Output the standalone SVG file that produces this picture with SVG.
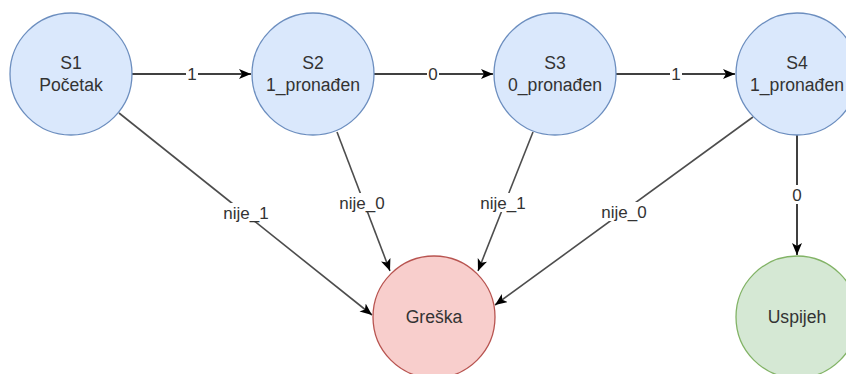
<svg xmlns="http://www.w3.org/2000/svg" width="846" height="374" viewBox="0 0 846 374">
<style>
text{font-family:"Liberation Sans",Arial,sans-serif;font-size:17px;fill:#333;text-anchor:middle}
.n text{font-size:17.6px}
.blue{fill:#dae8fc;stroke:#6c8ebf;stroke-width:1.3}
.red{fill:#f8cecc;stroke:#b85450;stroke-width:1.3}
.green{fill:#d5e8d4;stroke:#82b366;stroke-width:1.3}
.e{fill:none;stroke:#000;stroke-width:1.5;marker-end:url(#arr)}
.d{fill:none;stroke:#4d4d4d;stroke-width:1.6;marker-end:url(#arr)}
.bg{fill:#fff}
</style>
<defs>
<marker id="arr" markerUnits="userSpaceOnUse" markerWidth="14" markerHeight="12" refX="12" refY="5" orient="auto">
<path d="M0,0 L12,5 L0,10 L3,5 z" fill="#000"/>
</marker>
</defs>
<rect width="846" height="374" fill="#fff"/>
<g id="connectors">
<line class="e" x1="132" y1="74" x2="251" y2="74"/>
<line class="e" x1="374" y1="74" x2="493" y2="74"/>
<line class="e" x1="616" y1="74" x2="735" y2="74"/>
<line class="e" x1="797" y1="135" x2="797" y2="255"/>
<line class="d" x1="119" y1="113" x2="372" y2="315"/>
<line class="d" x1="337" y1="132" x2="390" y2="271"/>
<line class="d" x1="533" y1="132" x2="478" y2="271"/>
<line class="d" x1="753" y1="117" x2="495" y2="305"/>
<rect class="bg" x="186" y="64" width="12" height="19"/>
<text x="192" y="80">1</text>
<rect class="bg" x="427" y="64" width="12" height="19"/>
<text x="433" y="80">0</text>
<rect class="bg" x="670" y="64" width="12" height="19"/>
<text x="676" y="80">1</text>
<rect class="bg" x="791" y="185" width="12" height="19"/>
<text x="797" y="201">0</text>
<rect class="bg" x="224" y="203" width="45" height="19"/>
<text x="246" y="219">nije_1</text>
<rect class="bg" x="339" y="193" width="46" height="19"/>
<text x="362" y="209">nije_0</text>
<rect class="bg" x="481" y="193" width="45" height="19"/>
<text x="503" y="209">nije_1</text>
<rect class="bg" x="601" y="202" width="46" height="19"/>
<text x="624" y="218">nije_0</text>
</g>
<g id="S1" class="n">
<circle class="blue" cx="71" cy="74" r="61"/>
<text x="71" y="69">S1</text>
<text x="71" y="91">Početak</text>
</g>
<g id="S2" class="n">
<circle class="blue" cx="313" cy="74" r="61"/>
<text x="313" y="69">S2</text>
<text x="313" y="91">1_pronađen</text>
</g>
<g id="S3" class="n">
<circle class="blue" cx="555" cy="74" r="61"/>
<text x="555" y="69">S3</text>
<text x="555" y="91">0_pronađen</text>
</g>
<g id="S4" class="n">
<circle class="blue" cx="797" cy="74" r="61"/>
<text x="797" y="69">S4</text>
<text x="797" y="91">1_pronađen</text>
</g>
<g id="Greska" class="n">
<circle class="red" cx="434" cy="317" r="61"/>
<text x="434" y="323">Greška</text>
</g>
<g id="Uspjeh" class="n">
<circle class="green" cx="797" cy="317" r="61"/>
<text x="797" y="323">Uspijeh</text>
</g>
</svg>
